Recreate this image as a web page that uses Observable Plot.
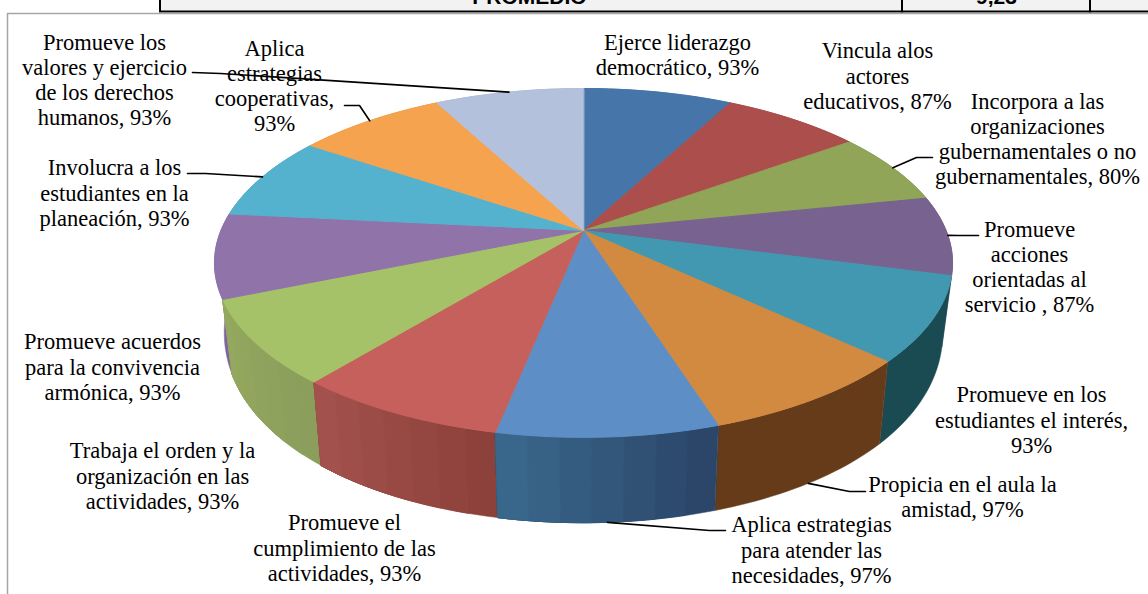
<!DOCTYPE html>
<html><head><meta charset="utf-8">
<script src="https://cdn.jsdelivr.net/npm/d3@7"></script>
<script src="https://cdn.jsdelivr.net/npm/@observablehq/plot@0.6"></script>
<style>html,body{margin:0;padding:0;background:#fff}svg{display:block}</style>
</head><body><div id="chart"></div>
<script>
// data
const categories = [
 "Ejerce liderazgo\ndemocrático","Vincula alos\nactores\neducativos","Incorpora a las\norganizaciones\ngubernamentales o no\ngubernamentales",
 "Promueve\nacciones\norientadas al\nservicio ","Promueve en los\nestudiantes el interés,\n","Propicia en el aula la\namistad",
 "Aplica estrategias\npara atender las\nnecesidades","Promueve el\ncumplimiento de las\nactividades","Trabaja el orden y la\norganización en las\nactividades",
 "Promueve acuerdos\npara la convivencia\narmónica","Involucra a los\nestudiantes en la\nplaneación","Aplica\nestrategias\ncooperativas,\n","Promueve los\nvalores y ejercicio\nde los derechos\nhumanos"];
const values = [93,87,80,87,93,97,97,93,93,93,93,93,93];
const topColors = ["#4676A9","#AB4E4C","#90A557","#78628F","#4298B0","#D18A3F","#5D8FC6","#C6605C","#A6C268","#9073A8","#55B2CE","#F5A34F","#B3C1DC"];
const wallFrom = ["#3a5f88","#8a3f3d","#74854a","#604f74","#1a4a52","#653b1a","#2a4366","#8a4038","#8a9d5c","#7f64a0","#44889e","#c4823f","#8f9ab0"];
const wallTo   = ["#3a5f88","#8a3f3d","#74854a","#604f74","#1a4a52","#653b1a","#3a6a8e","#a5524d","#95a95f","#7f64a0","#44889e","#c4823f","#8f9ab0"];
// layout
const labelCx = [677,877,1037,1029,1031,962,811,344,162,112,114,274,104];
const labelCy = [54,75,138,266,419,496,549,547,475,366,192,85,79];
const leaders = {2:[[932,157],[916,157]],3:[[978,235],[958,235]],5:[[865,491],[849,491]],6:[[725,530],[709,530]],10:[[187,173],[205,173]],11:[[344,105],[359,105]],12:[[192,72],[220,73]]};

const total = d3.sum(values), cum = d3.cumsum(values);
const ang = i => (i===0?0:cum[i-1])/total*2*Math.PI;
const topP = t => {const s=Math.sin(t),c=Math.cos(t),w=1+.186*c;return [583+362.6*s/w,230-168.4*c/w]};
const botP = t => {const s=Math.sin(t),c=Math.cos(t);return [583+353*s/(1+.186*c),293-204.7*c/(1+.107*c)]};
const arc=(a,b,f,n=24)=>d3.range(n+1).map(k=>f(a+(b-a)*k/n));

const tops=[], walls=[];
const order=d3.range(values.length).sort((p,q)=>d3.descending(Math.cos(ang(p)+values[p]/total*Math.PI),Math.cos(ang(q)+values[q]/total*Math.PI)));
order.forEach(i=>{
  const v=values[i], a=ang(i), b=a+v/total*2*Math.PI;
  const bands=wallFrom[i]===wallTo[i]?1:7, col=d3.interpolateRgb(wallFrom[i],wallTo[i]);
  for(let j=0;j<bands;j++){
    const a0=a+(b-a)*j/bands;          // each band runs to the slice's end and the next paints over it
    const pts=[...arc(a0,b,topP),...arc(a0,b,botP).reverse()];
    pts.forEach(p=>walls.push({x:p[0],y:p[1],id:i+"-"+j,color:col((j+.5)/bands)}));
  }
});
values.forEach((v,i)=>{
  const a=ang(i), b=a+v/total*2*Math.PI;
  [[583,230],...arc(a,b,topP)].forEach(p=>tops.push({x:p[0],y:p[1],id:i,color:topColors[i]}));
});

const leaderRows=[];
Object.entries(leaders).forEach(([k,l])=>{
  const i=+k, m=ang(i)+values[i]/total*Math.PI;
  const front=i>=5 && i<=7;
  const end=front?botP(m):topP(m);
  [...l,end].forEach(p=>leaderRows.push({x:p[0],y:p[1],id:i}));
});
const labels=categories.map((c,i)=>({x:labelCx[i],y:labelCy[i],
  t:c.endsWith("\n")?c+values[i]+"%":c+", "+values[i]+"%"}));
const strip=[{x1:160,x2:902,y1:-6,y2:11.5},{x1:902,x2:1090,y1:-6,y2:11.5},{x1:1090,x2:1152,y1:-6,y2:11.5}];

const chart=Plot.plot({
  width:1148,height:594,margin:0,
  x:{domain:[0,1148],range:[0,1148],axis:null},
  y:{domain:[0,594],range:[0,594],axis:null},
  color:{type:"identity"},
  marks:[
    Plot.rect(strip,{x1:"x1",x2:"x2",y1:"y1",y2:"y2",fill:"#f2f2f2",stroke:"#000",strokeWidth:2,clip:false}),
    Plot.text([{x:529,y:-3,t:"PROMEDIO"},{x:996,y:-3,t:"9,23"}],{x:"x",y:"y",text:"t",fontWeight:"bold",fontSize:21,fontFamily:"Liberation Sans",fill:"#000",lineAnchor:"middle"}),
    Plot.line([{x:7,y:594},{x:7,y:13},{x:1148,y:13}],{x:"x",y:"y",stroke:"#a6a6a6",strokeWidth:1.5}),
    Plot.line(walls,{x:"x",y:"y",z:"id",fill:"color",stroke:"color",strokeWidth:.5,curve:"linear-closed"}),
    Plot.line(tops,{x:"x",y:"y",z:"id",fill:"color",stroke:"color",strokeWidth:1,curve:"linear-closed"}),
    Plot.line(leaderRows,{x:"x",y:"y",z:"id",stroke:"#000",strokeWidth:1.6}),
    Plot.text(labels,{x:"x",y:"y",text:"t",fontSize:22.5,lineHeight:1.12,fontFamily:"Liberation Serif",fill:"#000",textAnchor:"middle",lineAnchor:"middle"})
  ]
});
document.getElementById("chart").append(chart);
</script></body></html>
